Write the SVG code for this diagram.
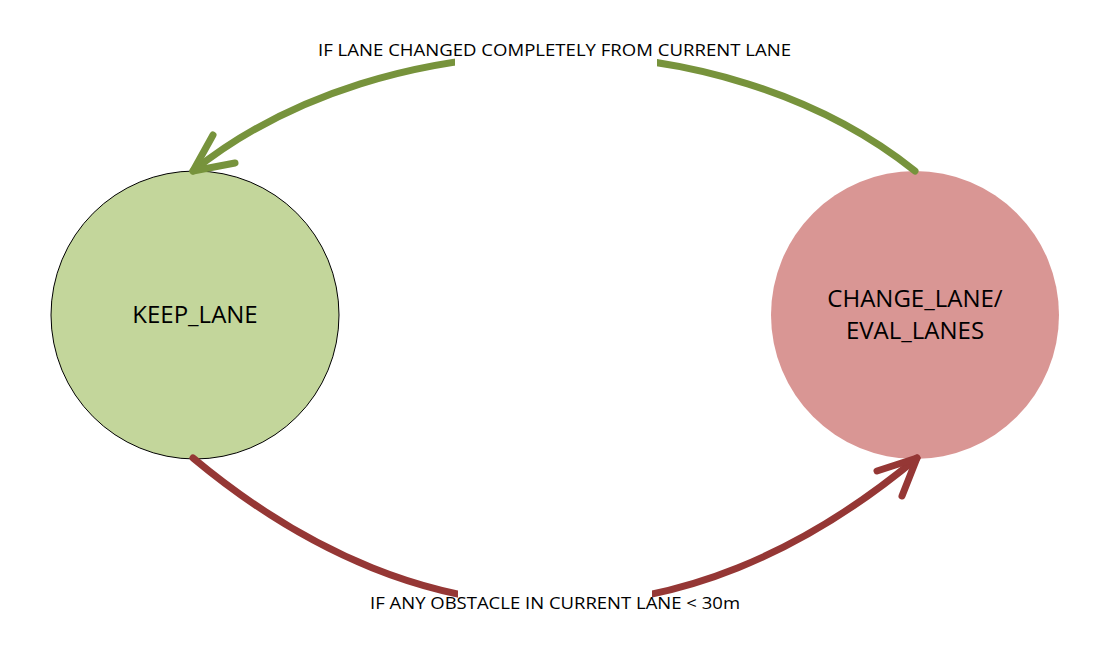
<svg xmlns="http://www.w3.org/2000/svg" width="1102" height="649" viewBox="0 0 1102 649">
<style>
.node-label{font-family:"Open Sans","Liberation Sans",sans-serif;font-size:24px;fill:#000;text-anchor:middle}
.edge-label{font-family:"Open Sans","Liberation Sans",sans-serif;font-size:17px;fill:#000;text-anchor:middle}
.arc{fill:none;stroke-width:7;stroke-linecap:round;stroke-linejoin:round}
.green{stroke:#77933C}
.red{stroke:#953735}
</style>
<rect width="1102" height="649" fill="#fff"/>
<g id="node-keep-lane">
<circle cx="195" cy="315" r="144" fill="#C3D69B" stroke="#000" stroke-width="1"/>
<text class="node-label" x="195" y="323">KEEP_LANE</text>
</g>
<g id="node-change-lane">
<circle cx="915" cy="315" r="144" fill="#D99694"/>
<text class="node-label" x="915" y="307">CHANGE_LANE/</text>
<text class="node-label" x="915" y="339">EVAL_LANES</text>
</g>
<g id="connectors">
<path class="arc green" d="M915,171 C721,16 387,16 193,171"/>
<path class="arc green" d="M213,135 L193,171 L235,163"/>
<path class="arc red" d="M193,458 C427,653 683,653 917,458"/>
<path class="arc red" d="M877,471 L917,458 L902,496"/>
<rect x="455" y="35" width="202" height="33" fill="#fff"/>
<rect x="458" y="578" width="194" height="40" fill="#fff"/>
<text class="edge-label" x="554.5" y="56" textLength="473" lengthAdjust="spacingAndGlyphs">IF LANE CHANGED COMPLETELY FROM CURRENT LANE</text>
<text class="edge-label" x="555" y="609" textLength="370" lengthAdjust="spacingAndGlyphs">IF ANY OBSTACLE IN CURRENT LANE &lt; 30m</text>
</g>
</svg>
